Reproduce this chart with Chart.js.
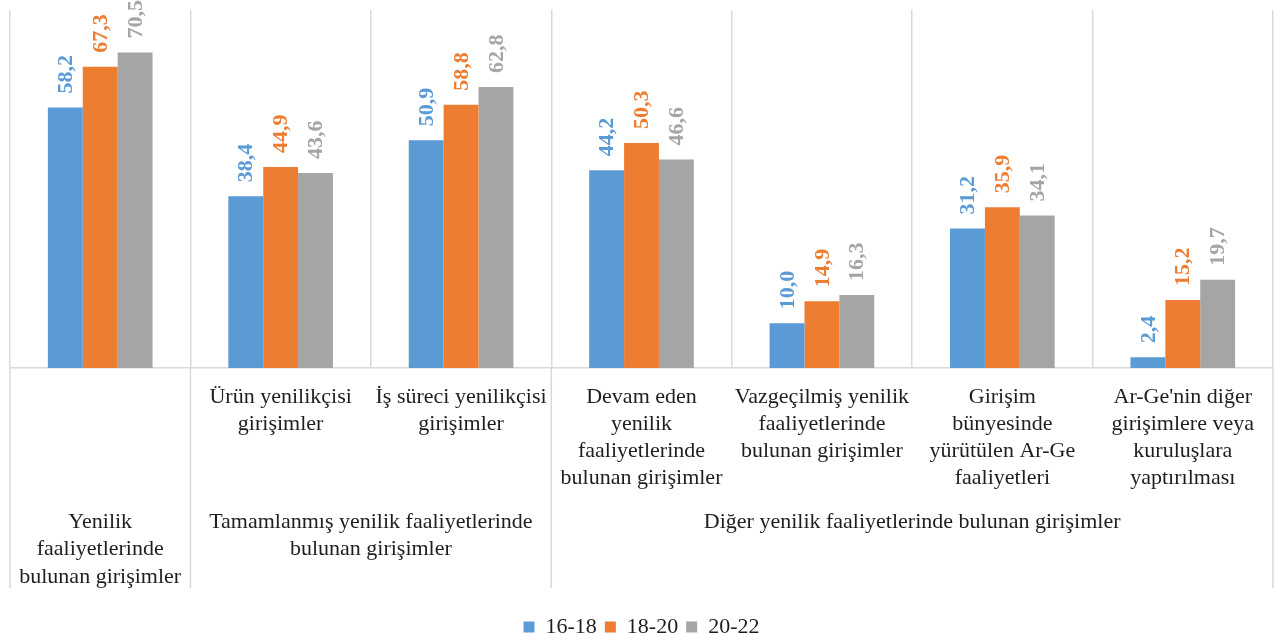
<!DOCTYPE html>
<html>
<head>
<meta charset="utf-8">
<script src="https://cdn.jsdelivr.net/npm/chart.js@4"></script>
<style>
  html, body { margin: 0; padding: 0; background: #fff; overflow: hidden; }
  #wrap { width: 1275px; height: 648px; position: relative; }
</style>
</head>
<body>
<div id="wrap"><canvas id="innovation"></canvas></div>
<script>
// first-level category labels (one entry per bar group, lines already broken)
const categories = [
  [],
  ['Ürün yenilikçisi', 'girişimler'],
  ['İş süreci yenilikçisi', 'girişimler'],
  ['Devam eden', 'yenilik', 'faaliyetlerinde', 'bulunan girişimler'],
  ['Vazgeçilmiş yenilik', 'faaliyetlerinde', 'bulunan girişimler'],
  ['Girişim', 'bünyesinde', 'yürütülen Ar-Ge', 'faaliyetleri'],
  ["Ar-Ge'nin diğer", 'girişimlere veya', 'kuruluşlara', 'yaptırılması']
];

// second-level groups: label lines + first/last category index
const groupLabels = [
  ['Yenilik', 'faaliyetlerinde', 'bulunan girişimler'],
  ['Tamamlanmış yenilik faaliyetlerinde', 'bulunan girişimler'],
  ['Diğer yenilik faaliyetlerinde bulunan girişimler']
];
const groupStart = [0, 1, 3];
const groupEnd = [0, 2, 6];

const seriesNames = ['16-18', '18-20', '20-22'];
const values1618 = [58.2, 38.4, 50.9, 44.2, 10.0, 31.2, 2.4];
const values1820 = [67.3, 44.9, 58.8, 50.3, 14.9, 35.9, 15.2];
const values2022 = [70.5, 43.6, 62.8, 46.6, 16.3, 34.1, 19.7];

const colors = ['#5b9bd5', '#ed7d31', '#a5a5a5'];
const FONT = '"Liberation Serif", "DejaVu Serif", serif';
const GRID = '#d9d9d9';
const TEXT = '#1e1e1e';

// value labels, rotated, above each bar
const barValues = {
  id: 'barValues',
  afterDatasetsDraw(chart) {
    const ctx = chart.ctx;
    chart.data.datasets.forEach((ds, i) => {
      chart.getDatasetMeta(i).data.forEach((bar, j) => {
        ctx.save();
        ctx.translate(bar.x + 1, bar.y - 14);
        ctx.rotate(-Math.PI / 2);
        ctx.font = 'bold 22px ' + FONT;
        ctx.fillStyle = ds.backgroundColor;
        ctx.textAlign = 'left';
        ctx.textBaseline = 'middle';
        ctx.fillText(ds.data[j].toFixed(1).replace('.', ','), 0, 0);
        ctx.restore();
      });
    });
  }
};

// two-level category axis below the bars
const multiLevelAxis = {
  id: 'multiLevelAxis',
  afterDraw(chart) {
    const ctx = chart.ctx;
    const x = chart.scales.x;
    const n = chart.data.labels.length;
    const w = x.width / n;
    const top = x.top;

    ctx.save();
    ctx.strokeStyle = GRID;
    ctx.lineWidth = 1.5;
    // group separators
    const edges = groupStart.map(s => x.left + s * w);
    edges.push(x.left + n * w);
    edges.forEach(px => {
      ctx.beginPath();
      ctx.moveTo(px, top);
      ctx.lineTo(px, top + 220);
      ctx.stroke();
    });

    ctx.fillStyle = TEXT;
    ctx.font = '22px ' + FONT;
    ctx.textAlign = 'center';
    ctx.textBaseline = 'middle';
    categories.forEach((lines, i) => {
      const cx = x.getPixelForValue(i);
      lines.forEach((t, k) => ctx.fillText(t, cx, top + 29 + k * 27));
    });
    groupLabels.forEach((lines, g) => {
      const cx = (x.left + groupStart[g] * w + x.left + (groupEnd[g] + 1) * w) / 2;
      lines.forEach((t, k) => ctx.fillText(t, cx, top + 154 + k * 27.5));
    });
    ctx.restore();
  }
};

new Chart(document.getElementById('innovation'), {
  type: 'bar',
  data: {
    labels: categories.map((c, i) => c.join(' ') || groupLabels[0].join(' ')),
    datasets: [
      { label: seriesNames[0], data: values1618, backgroundColor: colors[0] },
      { label: seriesNames[1], data: values1820, backgroundColor: colors[1] },
      { label: seriesNames[2], data: values2022, backgroundColor: colors[2] }
    ]
  },
  options: {
    responsive: true,
    maintainAspectRatio: false,
    animation: false,
    layout: { padding: { left: 10, right: 2, top: 10, bottom: 0 } },
    datasets: { bar: { categoryPercentage: 0.58, barPercentage: 1.0 } },
    scales: {
      x: {
        ticks: { display: false },
        grid: { color: GRID, lineWidth: 1.5, drawTicks: false, offset: true },
        border: { display: true, color: GRID, width: 1.5 },
        afterFit(scale) { scale.height = 240; }
      },
      y: { display: false, min: 0, max: 80 }
    },
    plugins: {
      legend: {
        position: 'bottom',
        labels: {
          boxWidth: 11,
          boxHeight: 11,
          padding: 8,
          color: TEXT,
          font: { family: FONT, size: 22, lineHeight: 1.1 }
        }
      },
      tooltip: { enabled: false }
    }
  },
  plugins: [barValues, multiLevelAxis]
});
</script>
</body>
</html>
